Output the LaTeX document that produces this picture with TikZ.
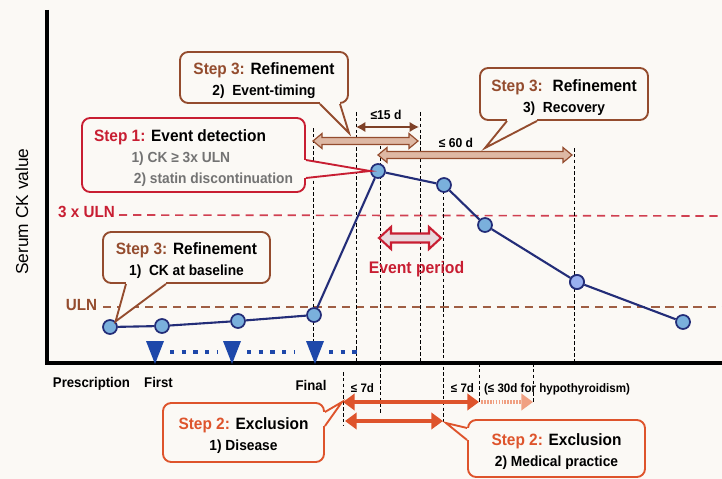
\documentclass[tikz,border=0pt]{standalone}
\usepackage{fontspec}
\setmainfont{Liberation Sans}[FakeStretch=0.94]
\newfontfamily\plainsans{Liberation Sans}
\usetikzlibrary{arrows.meta,calc}

\definecolor{bg}{RGB}{251,249,245}
\definecolor{stepone}{RGB}{200,30,50}
\definecolor{steptwo}{RGB}{222,84,44}
\definecolor{stepthree}{RGB}{148,76,46}
\definecolor{navy}{RGB}{35,45,120}
\definecolor{dotfill}{RGB}{122,176,220}
\definecolor{tri}{RGB}{30,72,170}
\definecolor{timefill}{RGB}{222,184,164}
\definecolor{evfill}{RGB}{232,218,222}
\definecolor{paleorange}{RGB}{240,160,130}

% step title: colour, "Step n:", rest
\newcommand\ttl[3]{{\fontsize{14}{18}\selectfont\rule{0pt}{16pt}\textcolor{#1}{#2} #3}}
% callout pointer: colour, base 1, base 2, tip
\newcommand\callptr[4]{%
  \draw[bg, line width=2.6pt] (#2) -- (#3);
  \fill[bg] (#2) -- (#4) -- (#3) -- cycle;
  \draw[#1, line width=1.6pt, line join=miter] (#2) -- (#4) -- (#3);}
% hollow double arrow: style, x1, x2, y, shaft half, head half, head length
\newcommand\fatarrow[7]{%
  \draw[#1] (#2,#4) -- ++(#7,-#6) -- ++(0,#6-#5) -- (#3-#7,#4-#5) -- ++(0,#5-#6)
    -- (#3,#4) -- ++(-#7,#6) -- ++(0,#5-#6) -- (#2+#7,#4+#5) -- ++(0,#6-#5) -- cycle;}

\tikzset{
  box/.style={draw, line width=1.6pt, rounded corners=7pt, fill=bg, align=center,
    inner sep=2pt, font=\fontsize{12.5}{18}\selectfont\bfseries},
  dot/.style={circle, draw=navy, line width=1.5pt, fill=dotfill, minimum size=0.42cm, inner sep=0pt},
  vline/.style={black, line width=0.6pt, dash pattern=on 3pt off 2pt},
  lab/.style={font=\fontsize{12}{14}\selectfont\bfseries, anchor=base},
  small/.style={font=\fontsize{10.5}{12}\selectfont\bfseries, anchor=base},
  exarrow/.style={steptwo, line width=4.2pt, {Triangle[length=10pt,width=14pt]}-{Triangle[length=10pt,width=14pt]}},
}

\begin{document}
\begin{tikzpicture}[x=0.03cm, y=-0.03cm]
\fill[bg] (0,0) rectangle (722,479);
\useasboundingbox (0,0) rectangle (722,479);

% reference levels
\draw[stepone!85, line width=1.4pt, dash pattern=on 7pt off 5pt] (119,215) -- (722,216);
\draw[stepthree!90, line width=1.4pt, dash pattern=on 7pt off 5pt] (103,307) -- (722,307);
\node[font=\fontsize{13.8}{16}\selectfont\bfseries, text=stepone, anchor=base] (tri-uln) at (86.5,217) {3 x ULN};
\node[font=\fontsize{13.8}{16}\selectfont\bfseries, text=stepthree, anchor=base] (uln) at (81.5,310) {ULN};

% time marks
\draw[vline] (313,128) -- (313,343);
\draw[vline] (356,112) -- (356,363);
\draw[vline] (380,140) -- (380,413);
\draw[vline] (420,112) -- (420,363);
\draw[vline] (443,185) -- (443,422);
\draw[vline] (574,148) -- (574,363);
\draw[vline] (343,372) -- (343,426);
\draw[vline] (479,363) -- (479,404);
\draw[vline] (533,363) -- (533,404);

% axes
\draw[line width=2.6pt] (47,10) -- (47,363) -- (722,363);
\node[rotate=90, font=\plainsans\fontsize{14.8}{17}\selectfont] (ylab) at (22,211.5) {Serum CK value};

% prescriptions
\foreach \x in {155,232,315}
  \fill[tri] (\x-9,341) -- (\x+9,341) -- (\x,364) -- cycle;
\draw[tri, line width=3pt, dash pattern=on 3.5pt off 6.5pt] (170,352) -- (218,352);
\draw[tri, line width=3pt, dash pattern=on 3.5pt off 6.5pt] (247,352) -- (295,352);
\draw[tri, line width=3pt, dash pattern=on 3.5pt off 6.5pt] (329,352) -- (363,352);

% serum CK curve
\foreach \n/\x/\y in {1/110/327, 2/162/326, 3/238/321, 4/314/315, 5/378/171,
                      6/444/185, 7/485/225, 8/577/282, 9/683/322}
  \node[dot] (p\n) at (\x,\y) {};
\node[dot, fill=dotfill!70!blue!60] at (p8) {};
\draw[navy, line width=1.8pt] (p1) -- (p2) -- (p3) -- (p4) -- (p5) -- (p6) -- (p7) -- (p8) -- (p9);

% windows
\draw[stepthree!85!black, line width=2.4pt, {Latex[length=8pt,width=9pt]}-{Latex[length=8pt,width=9pt]}] (356,127) -- (419,127);
\node[small, font=\fontsize{11}{12}\selectfont\bfseries] (d15) at (386,119) {≤15 d};
\fatarrow{draw=stepthree, fill=timefill, line width=1pt}{313}{418}{141}{3.5}{7.5}{9}
\fatarrow{draw=stepthree, fill=timefill, line width=1pt}{378}{572}{155}{3.5}{7.5}{9}
\node[small, font=\fontsize{11}{12}\selectfont\bfseries] (d60) at (456,147) {≤ 60 d};
\fatarrow{draw=stepone, fill=evfill, line width=1.8pt}{379}{441}{238}{4.5}{11}{12}
\node[font=\fontsize{14.3}{16}\selectfont\bfseries, text=stepone, anchor=base] (evp) at (416.5,273) {Event period};

% exclusion windows
\draw[exarrow] (343,402) -- (479,402);
\draw[paleorange, line width=4.2pt, dash pattern=on 1.5pt off 1pt, -{Triangle[length=10pt,width=14pt]}] (481,402) -- (533,402);
\draw[exarrow] (345,421) -- (443,421);
\node[small] (w1) at (362.5,392) {≤ 7d};
\node[small] (w2) at (462.5,392) {≤ 7d};
\node[small] (w3) at (557,392) {(≤ 30d for hypothyroidism)};

% x labels
\node[lab] (presc) at (91.5,387) {Prescription};
\node[lab] (first) at (158.5,387) {First};
\node[lab] (final) at (311,390) {Final};

% callouts
\node[box, draw=stepthree, minimum width=5.04cm, minimum height=1.53cm] (timing) at (264,77.5)
  {\ttl{stepthree}{Step 3:}{Refinement}\\2)\ \ Event-timing};
\callptr{stepthree}{$(timing.south)+(56,0)$}{$(timing.south)+(76,0)$}{349,133}

\node[box, draw=stepone, align=left, minimum width=6.69cm, minimum height=2.22cm] (detect) at (193.5,155)
  {\ttl{stepone}{Step 1:}{Event detection}\\
   \hspace*{32pt}\textcolor{black!55}{1) CK ≥ 3x ULN}\\
   \hspace*{34pt}\textcolor{black!55}{2) statin discontinuation}};
\callptr{stepone}{$(detect.east)+(0,5)$}{$(detect.east)+(0,23)$}{p5.west}

\node[box, draw=stepthree, minimum width=5.04cm, minimum height=1.56cm] (recov) at (564,94)
  {\ttl{stepthree}{Step 3:}{\ Refinement}\\3)\ \ Recovery};
\callptr{stepthree}{$(recov.south)+(-57,0)$}{$(recov.south)+(-27,0)$}{485,148}

\node[box, draw=stepthree, minimum width=5.01cm, minimum height=1.53cm] (basel) at (186.5,257.5)
  {\ttl{stepthree}{Step 3:}{Refinement}\\1)\ \ CK at baseline};
\callptr{stepthree}{$(basel.south)+(-60.5,0)$}{$(basel.south)+(-20.5,0)$}{p1.north east}

\node[box, draw=steptwo, minimum width=4.83cm, minimum height=1.77cm] (disease) at (243.5,432.5)
  {\ttl{steptwo}{Step 2:}{Exclusion}\\1) Disease};
\callptr{steptwo}{$(disease.east)+(0,-20.5)$}{$(disease.east)+(0,-6.5)$}{342,402}

\node[box, draw=steptwo, minimum width=5.31cm, minimum height=1.71cm] (medic) at (556.5,448.5)
  {\ttl{steptwo}{Step 2:}{Exclusion}\\2) Medical practice};
\callptr{steptwo}{$(medic.west)+(0,-20.5)$}{$(medic.west)+(0,-8.5)$}{446,423}
\end{tikzpicture}
\end{document}
